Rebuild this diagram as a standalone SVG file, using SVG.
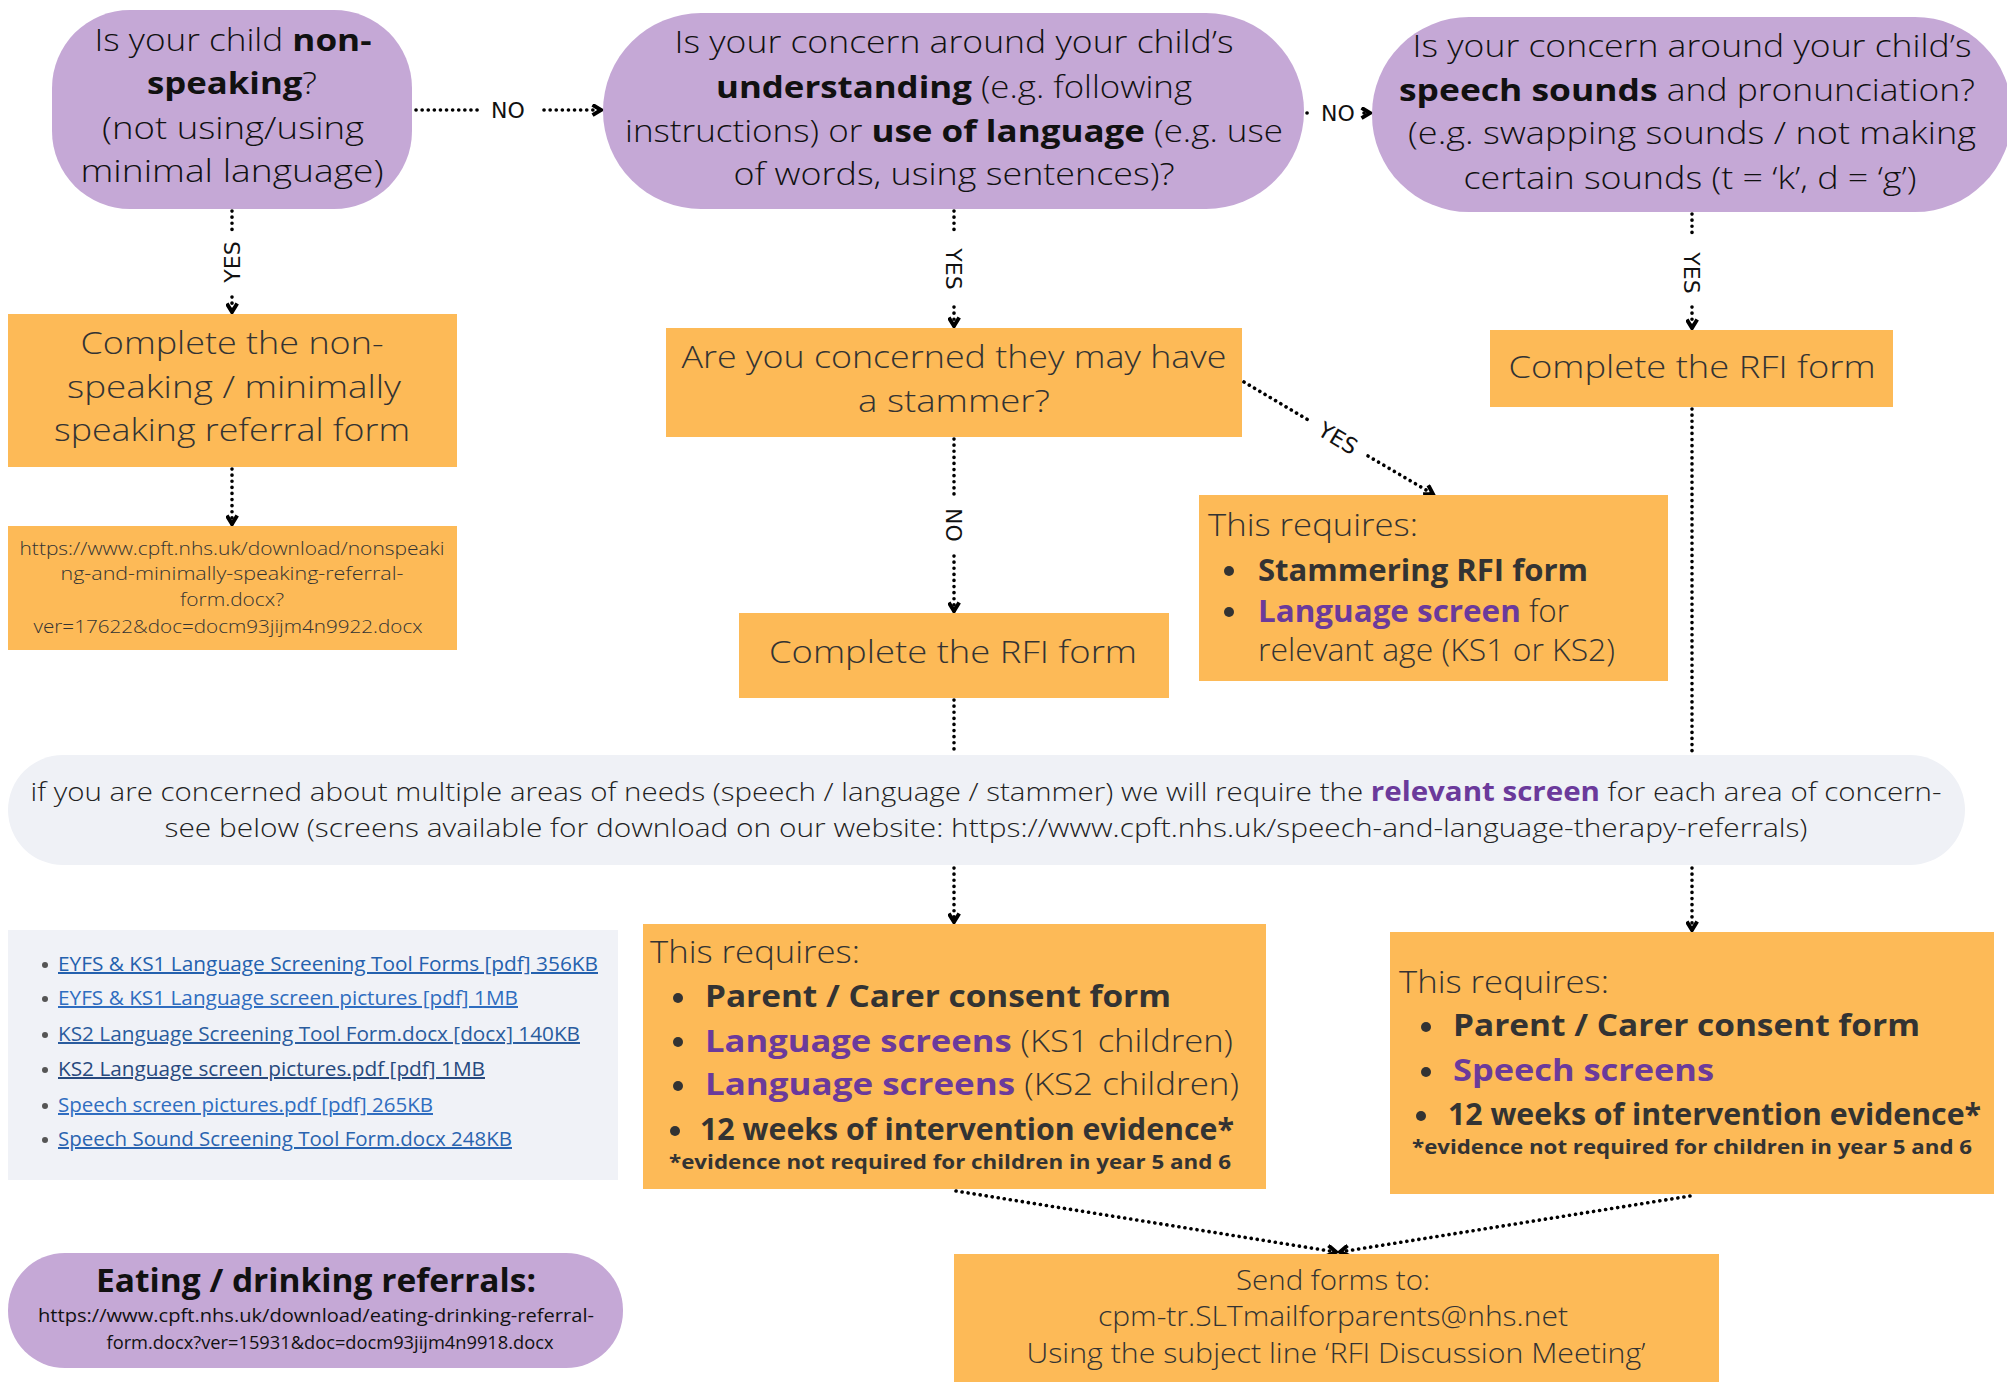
<svg xmlns="http://www.w3.org/2000/svg" width="2007" height="1384" viewBox="0 0 2007 1384">
<defs>
<style>
text{font-family:"Open Sans","Liberation Sans",sans-serif}
.lt{font-weight:300}
.b{font-weight:700}
.pur{fill:#C5A8D6}
.org{fill:#FDBA57}
.blk{fill:#111}
.dk{fill:#333}
.pp{fill:#6B3A9B;font-weight:700}
.n31{font-size:31px}
.conn{stroke:#000;stroke-width:3.6;stroke-dasharray:0.1 6;stroke-linecap:round;fill:none}
.lbl{font-size:22px;fill:#111;font-family:"DejaVu Sans","Open Sans",sans-serif}
.lnk{font-size:20px;text-decoration:underline;font-family:"Open Sans","Liberation Sans",sans-serif}
.dot{fill:#333}
</style>
<marker id="arr" viewBox="0 0 10 10" refX="8" refY="5" markerWidth="13" markerHeight="13" markerUnits="userSpaceOnUse" orient="auto">
<path d="M1.5,1 L8,5 L1.5,9" fill="none" stroke="#000" stroke-width="3"/>
</marker>
</defs>
<rect width="2007" height="1384" fill="#fff"/>

<g id="connectors">
<line class="conn" x1="416" y1="110" x2="480" y2="110"/>
<line class="conn" x1="544" y1="110" x2="601" y2="110" marker-end="url(#arr)"/>
<text class="lbl" x="508" y="118" text-anchor="middle">NO</text>
<line class="conn" x1="1307" y1="113" x2="1313" y2="113"/>
<line class="conn" x1="1364" y1="113" x2="1370" y2="113" marker-end="url(#arr)"/>
<text class="lbl" x="1338" y="121" text-anchor="middle">NO</text>

<line class="conn" x1="232" y1="211" x2="232" y2="233"/>
<line class="conn" x1="232" y1="297" x2="232" y2="312" marker-end="url(#arr)"/>
<text class="lbl" transform="translate(240,262) rotate(-90)" text-anchor="middle">YES</text>

<line class="conn" x1="954" y1="211" x2="954" y2="230"/>
<line class="conn" x1="954" y1="307" x2="954" y2="326" marker-end="url(#arr)"/>
<text class="lbl" transform="translate(946,269) rotate(90)" text-anchor="middle">YES</text>

<line class="conn" x1="1692" y1="214" x2="1692" y2="234"/>
<line class="conn" x1="1692" y1="307" x2="1692" y2="328" marker-end="url(#arr)"/>
<text class="lbl" transform="translate(1684,273) rotate(90)" text-anchor="middle">YES</text>

<line class="conn" x1="232" y1="469" x2="232" y2="524" marker-end="url(#arr)"/>

<line class="conn" x1="954" y1="439" x2="954" y2="494"/>
<line class="conn" x1="954" y1="556" x2="954" y2="611" marker-end="url(#arr)"/>
<text class="lbl" transform="translate(946,525) rotate(90)" text-anchor="middle">NO</text>

<line class="conn" x1="1244" y1="382" x2="1310" y2="421"/>
<line class="conn" x1="1368" y1="456" x2="1433" y2="494" marker-end="url(#arr)"/>
<text class="lbl" transform="translate(1338,438) rotate(30.7)" text-anchor="middle" dy="8">YES</text>

<line class="conn" x1="954" y1="700" x2="954" y2="754"/>
<line class="conn" x1="1692" y1="409" x2="1692" y2="754"/>
<line class="conn" x1="954" y1="868" x2="954" y2="922" marker-end="url(#arr)"/>
<line class="conn" x1="1692" y1="868" x2="1692" y2="930" marker-end="url(#arr)"/>
<line class="conn" x1="956" y1="1191" x2="1336" y2="1252" marker-end="url(#arr)"/>
<line class="conn" x1="1690" y1="1196" x2="1340" y2="1252" marker-end="url(#arr)"/>
</g>

<g id="q-nonspeaking">
<rect class="pur" x="52" y="10" width="360" height="199" rx="78"/>
<g class="n31 blk">
<text x="233" y="51" text-anchor="middle" textLength="277" lengthAdjust="spacingAndGlyphs"><tspan class="lt">Is your child </tspan><tspan class="b">non-</tspan></text>
<text x="232" y="94" text-anchor="middle" textLength="170" lengthAdjust="spacingAndGlyphs"><tspan class="b">speaking</tspan><tspan class="lt">?</tspan></text>
<text class="lt" x="233" y="139" text-anchor="middle" textLength="262" lengthAdjust="spacingAndGlyphs">(not using/using</text>
<text class="lt" x="232" y="182" text-anchor="middle" textLength="303" lengthAdjust="spacingAndGlyphs">minimal language)</text>
</g>
</g>

<g id="q-understanding">
<rect class="pur" x="603" y="13" width="701" height="196" rx="98"/>
<g class="n31 blk">
<text class="lt" x="954" y="53" text-anchor="middle" textLength="559" lengthAdjust="spacingAndGlyphs">Is your concern around your child’s</text>
<text x="954" y="98" text-anchor="middle" textLength="476" lengthAdjust="spacingAndGlyphs"><tspan class="b">understanding</tspan><tspan class="lt"> (e.g. following</tspan></text>
<text x="954" y="142" text-anchor="middle" textLength="658" lengthAdjust="spacingAndGlyphs"><tspan class="lt">instructions) or </tspan><tspan class="b">use of language</tspan><tspan class="lt"> (e.g. use</tspan></text>
<text class="lt" x="954" y="185" text-anchor="middle" textLength="441" lengthAdjust="spacingAndGlyphs">of words, using sentences)?</text>
</g>
</g>

<g id="q-speech">
<rect class="pur" x="1372" y="17" width="640" height="195" rx="97"/>
<g class="n31 blk">
<text class="lt" x="1692" y="57" text-anchor="middle" textLength="559" lengthAdjust="spacingAndGlyphs">Is your concern around your child’s</text>
<text x="1687" y="101" text-anchor="middle" textLength="576" lengthAdjust="spacingAndGlyphs"><tspan class="b">speech sounds</tspan><tspan class="lt"> and pronunciation?</tspan></text>
<text class="lt" x="1692" y="144" text-anchor="middle" textLength="568" lengthAdjust="spacingAndGlyphs">(e.g. swapping sounds / not making</text>
<text class="lt" x="1690" y="189" text-anchor="middle" textLength="453" lengthAdjust="spacingAndGlyphs">certain sounds (t = ‘k’, d = ‘g’)</text>
</g>
</g>

<g id="nonspeaking-form">
<rect class="org" x="8" y="314" width="449" height="153"/>
<g class="n31 dk lt">
<text x="232" y="354" text-anchor="middle" textLength="303" lengthAdjust="spacingAndGlyphs">Complete the non-</text>
<text x="234" y="398" text-anchor="middle" textLength="334" lengthAdjust="spacingAndGlyphs">speaking / minimally</text>
<text x="232" y="441" text-anchor="middle" textLength="356" lengthAdjust="spacingAndGlyphs">speaking referral form</text>
</g>
</g>

<g id="nonspeaking-url">
<rect class="org" x="8" y="526" width="449" height="124"/>
<g class="dk lt" font-size="18">
<text x="232" y="555" text-anchor="middle" textLength="425" lengthAdjust="spacingAndGlyphs">https://www.cpft.nhs.uk/download/nonspeaki</text>
<text x="232" y="580" text-anchor="middle" textLength="343" lengthAdjust="spacingAndGlyphs">ng-and-minimally-speaking-referral-</text>
<text x="232" y="606" text-anchor="middle" textLength="104" lengthAdjust="spacingAndGlyphs">form.docx?</text>
<text x="228" y="633" text-anchor="middle" textLength="389" lengthAdjust="spacingAndGlyphs">ver=17622&amp;doc=docm93jijm4n9922.docx</text>
</g>
</g>

<g id="q-stammer">
<rect class="org" x="666" y="328" width="576" height="109"/>
<g class="n31 dk lt">
<text x="954" y="368" text-anchor="middle" textLength="545" lengthAdjust="spacingAndGlyphs">Are you concerned they may have</text>
<text x="954" y="412" text-anchor="middle" textLength="192" lengthAdjust="spacingAndGlyphs">a stammer?</text>
</g>
</g>

<g id="rfi-speech">
<rect class="org" x="1490" y="330" width="403" height="77"/>
<text class="n31 dk lt" x="1692" y="378" text-anchor="middle" textLength="367" lengthAdjust="spacingAndGlyphs">Complete the RFI form</text>
</g>

<g id="stammer-requires">
<rect class="org" x="1199" y="495" width="469" height="186"/>
<g class="n31 dk">
<text class="lt" x="1208" y="536" textLength="210" lengthAdjust="spacingAndGlyphs">This requires:</text>
<circle class="dot" cx="1229" cy="571" r="5"/>
<text class="b" x="1258" y="581" textLength="330" lengthAdjust="spacingAndGlyphs">Stammering RFI form</text>
<circle class="dot" cx="1229" cy="612" r="5"/>
<text x="1258" y="622" textLength="311" lengthAdjust="spacingAndGlyphs"><tspan class="pp">Language screen</tspan><tspan class="lt"> for</tspan></text>
<text class="lt" x="1258" y="661" textLength="357" lengthAdjust="spacingAndGlyphs">relevant age (KS1 or KS2)</text>
</g>
</g>

<g id="rfi-language">
<rect class="org" x="739" y="613" width="430" height="85"/>
<text class="n31 dk lt" x="953" y="663" text-anchor="middle" textLength="368" lengthAdjust="spacingAndGlyphs">Complete the RFI form</text>
</g>

<g id="multiple-areas">
<rect x="8" y="755" width="1957" height="110" rx="55" fill="#EFF1F6"/>
<g font-size="26" fill="#222" class="lt">
<text x="986" y="801" text-anchor="middle" textLength="1911" lengthAdjust="spacingAndGlyphs"><tspan class="lt">if you are concerned about multiple areas of needs (speech / language / stammer) we will require the </tspan><tspan class="pp">relevant screen</tspan><tspan class="lt"> for each area of concern-</tspan></text>
<text x="986" y="837" text-anchor="middle" textLength="1643" lengthAdjust="spacingAndGlyphs">see below (screens available for download on our website: https://www.cpft.nhs.uk/speech-and-language-therapy-referrals)</text>
</g>
</g>

<g id="screen-links">
<rect x="8" y="930" width="610" height="250" fill="#F0F2F7"/>
<g fill="#555">
<circle cx="45" cy="965" r="3"/><circle cx="45" cy="999" r="3"/><circle cx="45" cy="1035" r="3"/>
<circle cx="45" cy="1070" r="3"/><circle cx="45" cy="1106" r="3"/><circle cx="45" cy="1140" r="3"/>
</g>
<text class="lnk" x="58" y="971" fill="#2461AE" textLength="540" lengthAdjust="spacingAndGlyphs">EYFS &amp; KS1 Language Screening Tool Forms [pdf] 356KB</text>
<text class="lnk" x="58" y="1005" fill="#2F6DC0" textLength="460" lengthAdjust="spacingAndGlyphs">EYFS &amp; KS1 Language screen pictures [pdf] 1MB</text>
<text class="lnk" x="58" y="1041" fill="#2A5C9E" textLength="522" lengthAdjust="spacingAndGlyphs">KS2 Language Screening Tool Form.docx [docx] 140KB</text>
<text class="lnk" x="58" y="1076" fill="#284A7E" textLength="427" lengthAdjust="spacingAndGlyphs">KS2 Language screen pictures.pdf [pdf] 1MB</text>
<text class="lnk" x="58" y="1112" fill="#2F6DC0" textLength="375" lengthAdjust="spacingAndGlyphs">Speech screen pictures.pdf [pdf] 265KB</text>
<text class="lnk" x="58" y="1146" fill="#2A64B0" textLength="454" lengthAdjust="spacingAndGlyphs">Speech Sound Screening Tool Form.docx 248KB</text>
</g>

<g id="language-requires">
<rect class="org" x="643" y="924" width="623" height="265"/>
<g class="n31 dk">
<text class="lt" x="650" y="963" textLength="210" lengthAdjust="spacingAndGlyphs">This requires:</text>
<circle class="dot" cx="678" cy="998" r="5"/>
<text class="b" x="705" y="1007" textLength="466" lengthAdjust="spacingAndGlyphs">Parent / Carer consent form</text>
<circle class="dot" cx="678" cy="1042" r="5"/>
<text x="705" y="1052" textLength="528" lengthAdjust="spacingAndGlyphs"><tspan class="pp">Language screens</tspan><tspan class="lt"> (KS1 children)</tspan></text>
<circle class="dot" cx="678" cy="1086" r="5"/>
<text x="705" y="1095" textLength="534" lengthAdjust="spacingAndGlyphs"><tspan class="pp">Language screens</tspan><tspan class="lt"> (KS2 children)</tspan></text>
<circle class="dot" cx="675" cy="1131" r="5"/>
<text class="b" x="700" y="1140" textLength="534" lengthAdjust="spacingAndGlyphs">12 weeks of intervention evidence*</text>
<text class="b" x="669" y="1169" font-size="20" textLength="562" lengthAdjust="spacingAndGlyphs">*evidence not required for children in year 5 and 6</text>
</g>
</g>

<g id="speech-requires">
<rect class="org" x="1390" y="932" width="604" height="262"/>
<g class="n31 dk">
<text class="lt" x="1399" y="993" textLength="210" lengthAdjust="spacingAndGlyphs">This requires:</text>
<circle class="dot" cx="1426" cy="1027" r="5"/>
<text class="b" x="1453" y="1036" textLength="467" lengthAdjust="spacingAndGlyphs">Parent / Carer consent form</text>
<circle class="dot" cx="1426" cy="1072" r="5"/>
<text class="pp" x="1453" y="1081" textLength="261" lengthAdjust="spacingAndGlyphs">Speech screens</text>
<circle class="dot" cx="1421" cy="1116" r="5"/>
<text class="b" x="1448" y="1125" textLength="533" lengthAdjust="spacingAndGlyphs">12 weeks of intervention evidence*</text>
<text class="b" x="1412" y="1154" font-size="20" textLength="560" lengthAdjust="spacingAndGlyphs">*evidence not required for children in year 5 and 6</text>
</g>
</g>

<g id="eating-drinking">
<rect class="pur" x="8" y="1253" width="615" height="115" rx="57"/>
<text class="b blk" x="316" y="1292" font-size="32" text-anchor="middle" textLength="440" lengthAdjust="spacingAndGlyphs">Eating / drinking referrals:</text>
<g class="blk" font-size="19">
<text x="316" y="1322" text-anchor="middle" textLength="556" lengthAdjust="spacingAndGlyphs">https://www.cpft.nhs.uk/download/eating-drinking-referral-</text>
<text x="330" y="1349" text-anchor="middle" textLength="447" lengthAdjust="spacingAndGlyphs">form.docx?ver=15931&amp;doc=docm93jijm4n9918.docx</text>
</g>
</g>

<g id="send-forms">
<rect class="org" x="954" y="1254" width="765" height="128"/>
<g class="dk lt" font-size="28">
<text x="1333" y="1290" text-anchor="middle" textLength="194" lengthAdjust="spacingAndGlyphs">Send forms to:</text>
<text x="1333" y="1326" text-anchor="middle" textLength="470" lengthAdjust="spacingAndGlyphs">cpm-tr.SLTmailforparents@nhs.net</text>
<text x="1336" y="1363" text-anchor="middle" textLength="619" lengthAdjust="spacingAndGlyphs">Using the subject line ‘RFI Discussion Meeting’</text>
</g>
</g>
</svg>
